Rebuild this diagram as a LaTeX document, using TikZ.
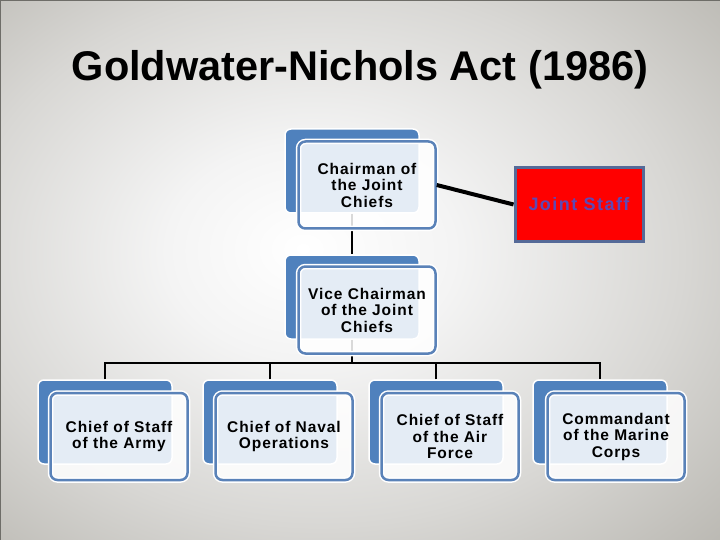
\documentclass[tikz,border=0pt]{standalone}
\usepackage{fontspec}
\setmainfont{Liberation Sans}
\newfontfamily\boxfont[LetterSpace=6]{Liberation Sans}
\newfontfamily\jsfont[LetterSpace=8]{Liberation Sans}
\definecolor{bblue}{HTML}{4F81BD}
\definecolor{fblue}{HTML}{5A82B8}
\definecolor{jsborder}{HTML}{556A98}
\definecolor{jstext}{HTML}{5E48B4}
\definecolor{bgA}{HTML}{F4F4F4}
\definecolor{bgB}{HTML}{D8D7D4}
\definecolor{bgC}{HTML}{BAB8B2}
\definecolor{bgD}{HTML}{A8A69F}
\definecolor{bgE}{HTML}{9B9992}
\definecolor{frame}{HTML}{6E6D68}
\pgfdeclareradialshading{bgshade}{\pgfpoint{-4bp}{2bp}}{color(0bp)=(white); color(10bp)=(bgA); color(25bp)=(bgB); color(38bp)=(bgC); color(50bp)=(bgD); color(72bp)=(bgE)}
\begin{document}
\begin{tikzpicture}[x=1pt,y=-1pt,
  back/.style={rectangle, rounded corners=6pt, fill=bblue, draw=white, line width=1.5pt, minimum width=134pt, minimum height=84pt, inner sep=0pt},
  front/.style={rectangle, rounded corners=7pt, fill=white, fill opacity=0.85, text opacity=1, draw=fblue, line width=2.5pt,
    preaction={draw=white, line width=5.5pt, draw opacity=1}, minimum width=137pt, minimum height=87pt, align=center, inner sep=2pt,
    font=\boxfont\bfseries\fontsize{15.5}{16.5}\selectfont},
  conn/.style={draw=black, line width=2pt}]
\useasboundingbox (0,0) rectangle (720,540);
\shade[shading=bgshade] (0,0) rectangle (720,540);
\draw[frame, line width=2pt] (0,540) -- (0,0) -- (720,0);

\node[font=\bfseries\fontsize{41.5}{44}\selectfont, anchor=base] (title) at (360,81) {Goldwater-Nichols Act (1986)};

% back boxes
\node[back] (chb) at (352,171) {};
\node[back] (vcb) at (352,297) {};
\node[back] (armyb) at (105,422) {};
\node[back] (navyb) at (270,422) {};
\node[back] (airb) at (436,422) {};
\node[back] (marineb) at (600,422) {};

% connectors behind front boxes
\coordinate (bar) at (352,363);
\draw[conn, line width=2.5pt] (chb.south) -- (vcb.north);
\draw[conn, line width=2.5pt] (vcb.south) -- (bar);
\draw[conn] (armyb.north) -- (armyb.north |- bar) -- (marineb.north |- bar) -- (marineb.north);
\draw[conn] (navyb.north) -- (navyb.north |- bar);
\draw[conn] (airb.north) -- (airb.north |- bar);

% front boxes
\node[front] (ch) at (367,185) {Chairman of\\the Joint\\Chiefs};
\node[front] (vc) at (367,310) {Vice Chairman\\of the Joint\\Chiefs};
\node[front] (army) at (119,436.5) {Chief of Staff\\of the Army};
\node[front] (navy) at (284,436.5) {Chief of Naval\\Operations};
\node[front] (air) at (450,436.5) {Chief of Staff\\of the Air\\Force};
\node[front] (marine) at (616,436.5) {Commandant\\of the Marine\\Corps};

% joint staff
\node[rectangle, fill=red, draw=jsborder, line width=3pt, minimum width=128pt, minimum height=73pt, text=jstext,
  font=\jsfont\bfseries\fontsize{18}{20}\selectfont] (js) at (579,204.5) {Joint Staff};
\draw[conn, line width=4pt] (ch.east) -- (js.west);
\end{tikzpicture}
\end{document}
